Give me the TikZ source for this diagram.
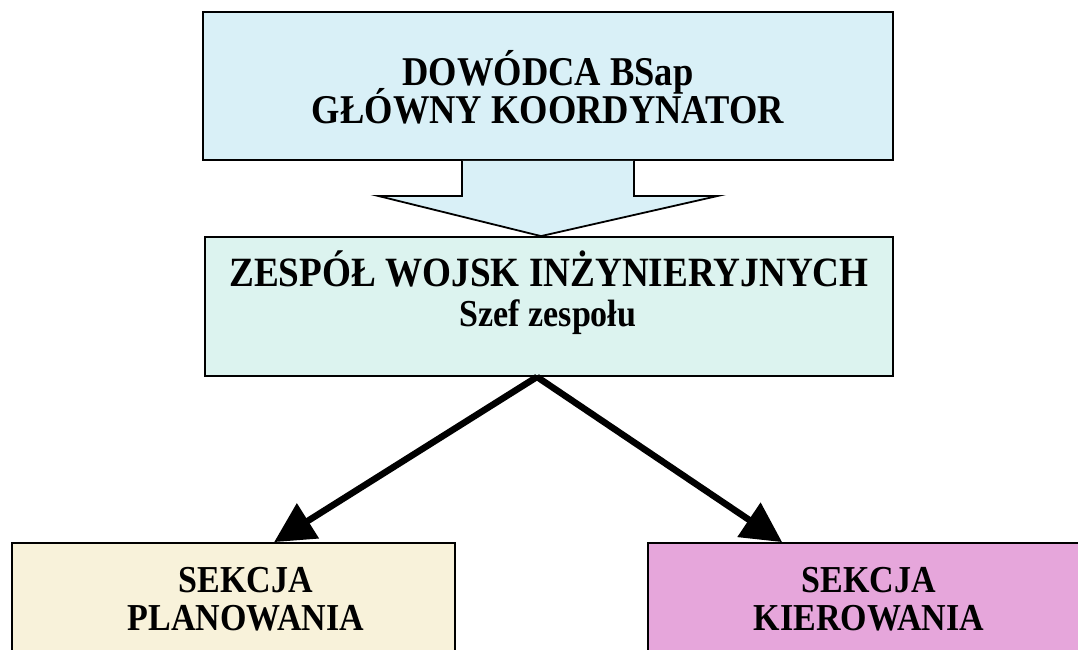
\documentclass[tikz,border=0pt]{standalone}
\usepackage{graphicx}
\usepackage{fontspec}
\setmainfont{Liberation Serif}
\usetikzlibrary{arrows.meta,calc}
\definecolor{cmdfill}{HTML}{D9F0F7}
\definecolor{teamfill}{HTML}{DCF3EF}
\definecolor{planfill}{HTML}{F8F2DA}
\definecolor{ctrlfill}{HTML}{E6A6DB}
% slightly condensed-looking, taller lettering
\newcommand{\talltext}[1]{\scalebox{1}[1.12]{#1}}
\begin{document}
\begin{tikzpicture}[x=1pt,y=-1pt,
  box/.style={draw=black,line width=1.8pt,inner sep=0pt},
  lbl/.style={font=\bfseries\fontsize{36.5}{40}\selectfont,inner sep=0pt,anchor=base},
  teamlbl/.style={font=\bfseries\fontsize{37.2}{42}\selectfont,inner sep=0pt,anchor=base},
  sublbl/.style={font=\bfseries\fontsize{34}{38}\selectfont,inner sep=0pt,anchor=base},
  seclbl/.style={font=\bfseries\fontsize{34}{38}\selectfont,inner sep=0pt,anchor=base},
  link/.style={line width=6.5pt,-{Triangle[length=40pt,width=40pt]}}]
\useasboundingbox (0,0) rectangle (1078,650);
\clip (0,0) rectangle (1078,650);
\fill[white] (0,0) rectangle (1078,650);

% boxes
\node[box,fill=cmdfill,minimum width=690pt,minimum height=148pt] (cmd) at (548,86) {};
\node[box,fill=teamfill,minimum width=688pt,minimum height=139pt] (team) at (549,306.5) {};
\node[box,fill=planfill,minimum width=443pt,minimum height=160pt] (plan) at (233.5,623) {};
\node[box,fill=ctrlfill,minimum width=444pt,minimum height=160pt] (ctrl) at (870,623) {};

% block arrow from the commander to the team
\filldraw[fill=cmdfill,draw=black,line width=1.8pt,line join=miter]
  ($(cmd.south)+(-86,0)$) -- ++(0,35) -- ++(-84,0)
  -- ($(team.north)+(-8,0)$)
  -- ($(cmd.south)+(170,35)$) -- ++(-84,0) -- ($(cmd.south)+(86,0)$);

% texts
\node[lbl] (t1) at (548,86) {\talltext{DOWÓDCA BSap}};
\node[lbl] (t2) at (548,124) {\talltext{GŁÓWNY KOORDYNATOR}};
\node[teamlbl] (t3) at (549,286) {\talltext{ZESPÓŁ WOJSK INŻYNIERYJNYCH}};
\node[sublbl] (t4) at (548,326) {\talltext{Szef zespołu}};
\node[seclbl] (t5) at (246,592) {\talltext{SEKCJA}};
\node[seclbl] (t6) at (246,630) {\talltext{PLANOWANIA}};
\node[seclbl] (t7) at (869,592) {\talltext{SEKCJA}};
\node[seclbl] (t8) at (869,630) {\talltext{KIEROWANIA}};

% connectors
\coordinate (apex) at ($(team.south)+(-12,0)$);
\coordinate (pin) at ($(plan.north west)+(263,0)$);
\coordinate (cin) at ($(ctrl.north west)+(135,0)$);
\draw[link] (apex) -- (pin);
\draw[link] (apex) -- (cin);
\end{tikzpicture}
\end{document}
